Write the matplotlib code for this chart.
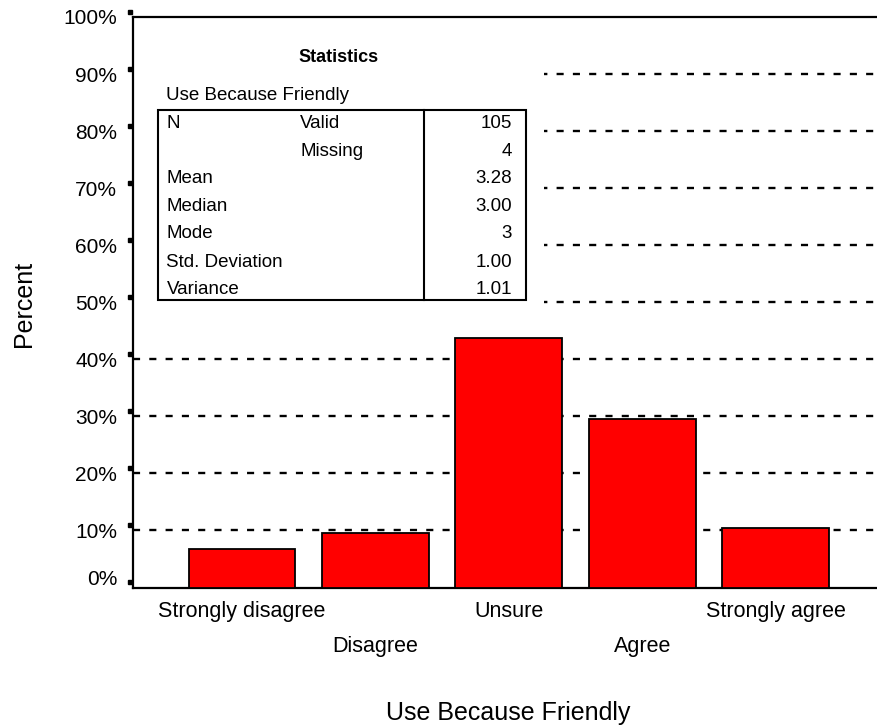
import matplotlib
matplotlib.use('Agg')
import matplotlib.pyplot as plt
import numpy as np
from matplotlib.transforms import ScaledTranslation
from matplotlib.patches import Rectangle
from matplotlib.lines import Line2D

# ---------------- data ----------------
categories = ['Strongly disagree', 'Disagree', 'Unsure', 'Agree', 'Strongly agree']
percents = [6.67, 9.52, 43.81, 29.52, 10.48]
yticks = [0, 10, 20, 30, 40, 50, 60, 70, 80, 90, 100]
ytick_labels = ['0%', '10%', '20%', '30%', '40%', '50%', '60%', '70%', '80%', '90%', '100%']
x_title = 'Use Because Friendly'
y_title = 'Percent'

stat_title = 'Statistics'
stat_variable = 'Use Because Friendly'
stat_labels = ['N', '', 'Mean', 'Median', 'Mode', 'Std. Deviation', 'Variance']
stat_sublabels = ['Valid', 'Missing', '', '', '', '', '']
stat_values = ['105', '4', '3.28', '3.00', '3', '1.00', '1.01']

# ---------------- layout ----------------
plt.rcParams['font.family'] = ['Liberation Sans', 'DejaVu Sans']
W, H = 877, 728
fig = plt.figure(figsize=(W / 100, H / 100), dpi=100)
L, R, T, B = 132.5, 877, 17, 587.5
ax = fig.add_axes([L / W, 1 - B / H, (R - L) / W, (B - T) / H])


def fx(px):
    return px / W


def fy(py):
    return 1 - py / H


xpos = np.arange(len(categories))
ax.bar(xpos, percents, width=0.8, color='#ff0000', edgecolor='black',
       linewidth=1.3, zorder=3)
ax.set_xlim(-0.82, 4.76)
ax.set_ylim(0, 100)

# dashed grid lines
for v in yticks[1:-1]:
    ax.axhline(v, color='black', lw=1.7, dashes=(3.0, 3.9), zorder=1)

# white area behind the statistics table
ax.add_patch(Rectangle((0, 0.47), 0.553, 0.5, transform=ax.transAxes,
                       facecolor='white', edgecolor='none', zorder=2))

for s in ['left', 'top', 'bottom']:
    ax.spines[s].set_linewidth(1.6)
ax.spines['right'].set_visible(False)

# y ticks
ax.set_yticks(yticks)
ax.set_yticklabels(ytick_labels)
ax.tick_params(axis='y', length=0, pad=11, labelsize=15)
lab0 = ax.get_yticklabels()[0]
lab0.set_transform(lab0.get_transform() + ScaledTranslation(0, 0.10, fig.dpi_scale_trans))

# small square tick marks (offset like the original)
ax.plot(np.zeros(len(yticks)), yticks, ls='none', marker='s', ms=3.4,
        color='black', clip_on=False, zorder=5,
        transform=ax.get_yaxis_transform() + ScaledTranslation(-0.028, 0.055, fig.dpi_scale_trans))

# x ticks, staggered
ax.set_xticks(xpos)
ax.set_xticklabels(categories)
ax.tick_params(axis='x', length=0, pad=10, labelsize=15.5)
for i, lab in enumerate(ax.get_xticklabels()):
    if i % 2 == 1:
        lab.set_transform(lab.get_transform() + ScaledTranslation(0, -0.345, fig.dpi_scale_trans))

# axis titles
fig.text(fx(508), fy(720), x_title, ha='center', va='baseline', fontsize=18)
fig.text(fx(24), fy(303.5), y_title, ha='center', va='center', rotation=90, fontsize=18)

# ---------------- statistics table ----------------
fig.text(fx(339), fy(62.3), stat_title, ha='center', va='baseline',
         fontsize=13, fontweight='bold')
fig.text(fx(166.5), fy(100), stat_variable, ha='left', va='baseline', fontsize=13.5)

box_l, box_r, box_t, box_b, div_x = 158, 526, 110, 299.5, 424
fig.patches.append(Rectangle((fx(box_l), fy(box_b)), fx(box_r) - fx(box_l),
                             fy(box_t) - fy(box_b), transform=fig.transFigure,
                             facecolor='none', edgecolor='black', lw=1.5, zorder=6))
fig.lines.append(Line2D([fx(div_x), fx(div_x)], [fy(box_t), fy(box_b)],
                        transform=fig.transFigure, color='black', lw=1.5, zorder=6))

row_base = [128, 156, 182.7, 210.7, 238.3, 266.7, 294]
for yb, lab, sub, val in zip(row_base, stat_labels, stat_sublabels, stat_values):
    if lab:
        fig.text(fx(166.5), fy(yb), lab, ha='left', va='baseline', fontsize=13.5)
    if sub:
        fig.text(fx(300), fy(yb), sub, ha='left', va='baseline', fontsize=13.5)
    fig.text(fx(512), fy(yb), val, ha='right', va='baseline', fontsize=13.5)

fig.savefig('out.png', dpi=100, facecolor='white')
